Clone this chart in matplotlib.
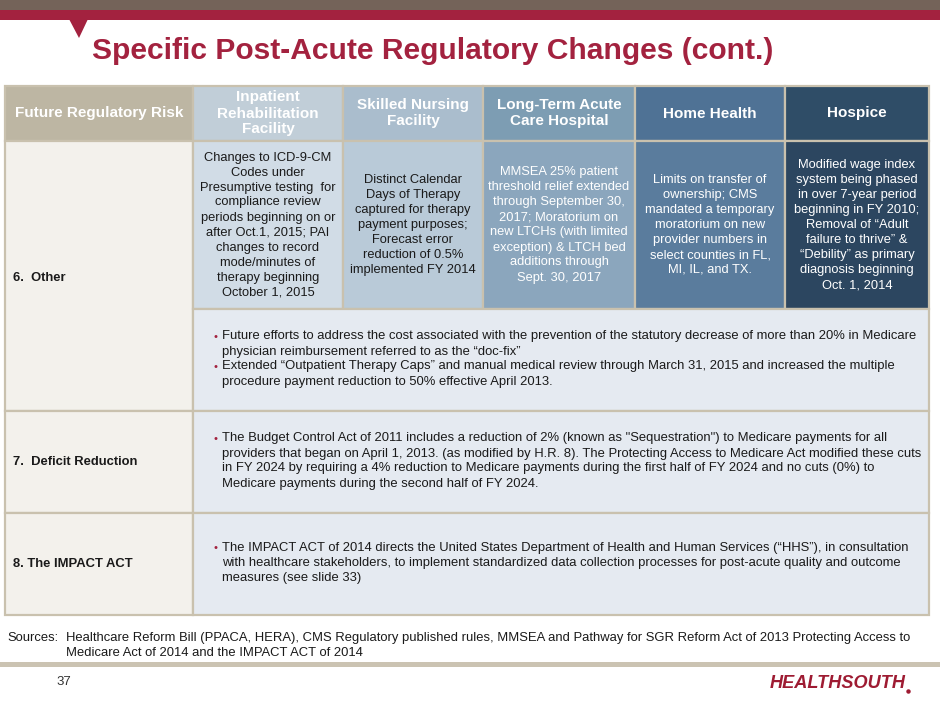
import matplotlib.pyplot as plt
from matplotlib.patches import Rectangle, Polygon

plt.rcParams['font.family'] = ['Liberation Sans', 'DejaVu Sans']

# ---- slide content ----
title = 'Specific Post-Acute Regulatory Changes (cont.)'

headers = ['Future Regulatory Risk',
           'Inpatient\nRehabilitation\nFacility',
           'Skilled Nursing\nFacility',
           'Long-Term Acute\nCare Hospital',
           'Home Health',
           'Hospice']

other_cells = [
    'Changes to ICD-9-CM\nCodes under\nPresumptive testing  for\ncompliance review\nperiods beginning on or\n'
    'after Oct.1, 2015; PAI\nchanges to record\nmode/minutes of\ntherapy beginning\nOctober 1, 2015',
    'Distinct Calendar\nDays of Therapy\ncaptured for therapy\npayment purposes;\nForecast error\n'
    'reduction of 0.5%\nimplemented FY 2014',
    'MMSEA 25% patient\nthreshold relief extended\nthrough September 30,\n2017; Moratorium on\n'
    'new LTCHs (with limited\nexception) & LTCH bed\nadditions through\nSept. 30, 2017',
    'Limits on transfer of\nownership; CMS\nmandated a temporary\nmoratorium on new\n'
    'provider numbers in\nselect counties in FL,\nMI, IL, and TX.',
    'Modified wage index\nsystem being phased\nin over 7-year period\nbeginning in FY 2010;\n'
    'Removal of \u201cAdult\nfailure to thrive\u201d &\n\u201cDebility\u201d as primary\n'
    'diagnosis beginning\nOct. 1, 2014',
]

row_labels = ['6.  Other', '7.  Deficit Reduction', '8. The IMPACT ACT']

bullets_other = [
    'Future efforts to address the cost associated with the prevention of the statutory decrease of more than 20% in Medicare\n'
    'physician reimbursement referred to as the \u201cdoc-fix\u201d',
    'Extended \u201cOutpatient Therapy Caps\u201d and manual medical review through March 31, 2015 and increased the multiple\n'
    'procedure payment reduction to 50% effective April 2013.',
]
bullets_deficit = [
    'The Budget Control Act of 2011 includes a reduction of 2% (known as "Sequestration") to Medicare payments for all\n'
    'providers that began on April 1, 2013. (as modified by H.R. 8). The Protecting Access to Medicare Act modified these cuts\n'
    'in FY 2024 by requiring a 4% reduction to Medicare payments during the first half of FY 2024 and no cuts (0%) to\n'
    'Medicare payments during the second half of FY 2024.',
]
bullets_impact = [
    'The IMPACT ACT of 2014 directs the United States Department of Health and Human Services (\u201cHHS\u201d), in consultation\n'
    'with healthcare stakeholders, to implement standardized data collection processes for post-acute quality and outcome\n'
    'measures (see slide 33)',
]

sources = ['Sources:',
           'Healthcare Reform Bill (PPACA, HERA), CMS Regulatory published rules, MMSEA and Pathway for SGR Reform Act of 2013 Protecting Access to',
           'Medicare Act of 2014 and the IMPACT ACT of 2014']
page_no = '37'
logo = 'HEALTHSOUTH'

# ---- styling ----
crimson = '#a3223f'
header_colors = ['#bdb6a3', '#c1ced8', '#aabdcd', '#7d9db3', '#4f7295', '#2f4d67']
body_colors = ['#f3f1ec', '#d1dce6', '#b9cad8', '#8ba6bd', '#5a7c9d', '#2c4660']
body_text_colors = ['#1a1a1a', '#1a1a1a', '#1a1a1a', 'white', 'white', 'white']
bullet_bg = '#e5eaf1'
border = '#c9c1ae'

col_x = [5, 193, 343, 483, 635, 785, 929]
row_y = [86, 141, 309, 411, 513, 615]
line_h = 15
fs_cell = 9.3
fs_body = 9.4

fig = plt.figure(figsize=(9.4, 7.05), dpi=100)
ax = fig.add_axes([0, 0, 1, 1])
ax.set_xlim(0, 940)
ax.set_ylim(705, 0)
ax.axis('off')


def box(x0, y0, x1, y1, color):
    ax.add_patch(Rectangle((x0, y0), x1 - x0, y1 - y0, facecolor=color,
                           edgecolor=border, linewidth=1.6, zorder=1))


def lines_centered(text, cx, cy, step=line_h, **kw):
    parts = text.split('\n')
    n = len(parts)
    for i, p in enumerate(parts):
        ax.text(cx, cy + (i - (n - 1) / 2) * step, p, ha='center', va='center', zorder=3, **kw)


def bullet_block(paras, x, cy):
    allines = [p.split('\n') for p in paras]
    n = sum(len(l) for l in allines)
    y = cy - (n - 1) / 2 * line_h
    for lines in allines:
        ax.text(x - 9, y, '\u2022', color=crimson, fontsize=8, ha='left', va='center', zorder=3)
        for l in lines:
            ax.text(x, y, l, fontsize=fs_body, color='#1a1a1a', ha='left', va='center', zorder=3)
            y += line_h


# top bars
ax.add_patch(Rectangle((0, 0), 940, 10, facecolor='#746359', edgecolor='none'))
ax.add_patch(Rectangle((0, 10), 940, 10, facecolor=crimson, edgecolor='none'))
ax.add_patch(Polygon([(69, 19), (88, 19), (79, 38)], closed=True, facecolor=crimson, edgecolor='none'))

ax.text(92, 51, title, fontsize=21.6, fontweight='bold', color=crimson, ha='left', va='center')

# header row
for j, h in enumerate(headers):
    box(col_x[j], row_y[0], col_x[j + 1], row_y[1], header_colors[j])
    lines_centered(h, (col_x[j] + col_x[j + 1]) / 2, (row_y[0] + row_y[1]) / 2, step=16,
                   fontsize=11, fontweight='bold', color='white')

# left label column
for i, lab in enumerate(row_labels):
    y0, y1 = (row_y[1], row_y[3]) if i == 0 else (row_y[i + 2], row_y[i + 3])
    box(col_x[0], y0, col_x[1], y1, body_colors[0])
    ax.text(col_x[0] + 8, (y0 + y1) / 2 + (2 if i == 0 else 0), lab, fontsize=fs_body,
            fontweight='bold', color='#1a1a1a', ha='left', va='center', zorder=3)

# "Other" per-setting cells
for j, txt in enumerate(other_cells, start=1):
    box(col_x[j], row_y[1], col_x[j + 1], row_y[2], body_colors[j])
    lines_centered(txt, (col_x[j] + col_x[j + 1]) / 2, (row_y[1] + row_y[2]) / 2,
                   fontsize=fs_cell, color=body_text_colors[j])

# bullet rows
for k, paras in enumerate([bullets_other, bullets_deficit, bullets_impact]):
    y0, y1 = row_y[k + 2], row_y[k + 3]
    box(col_x[1], y0, col_x[-1], y1, bullet_bg)
    bullet_block(paras, 222, (y0 + y1) / 2 - 1)

# footer
ax.text(7, 638, sources[0], fontsize=fs_body, color='#1a1a1a', ha='left', va='center')
ax.text(66, 638, sources[1], fontsize=fs_body, color='#1a1a1a', ha='left', va='center')
ax.text(66, 653, sources[2], fontsize=fs_body, color='#1a1a1a', ha='left', va='center')
ax.add_patch(Rectangle((0, 662), 940, 5, facecolor='#cbc3b2', edgecolor='none'))
ax.text(56, 682, page_no, fontsize=9.5, color='#333333', ha='left', va='center')
ax.text(770, 683, logo, fontsize=13.1, fontweight='bold', fontstyle='italic',
        color='#9e1b32', ha='left', va='center')
ax.plot([908], [691], marker='o', markersize=2.2, color='#9e1b32', linestyle='none')

fig.savefig('out.png', dpi=100)
